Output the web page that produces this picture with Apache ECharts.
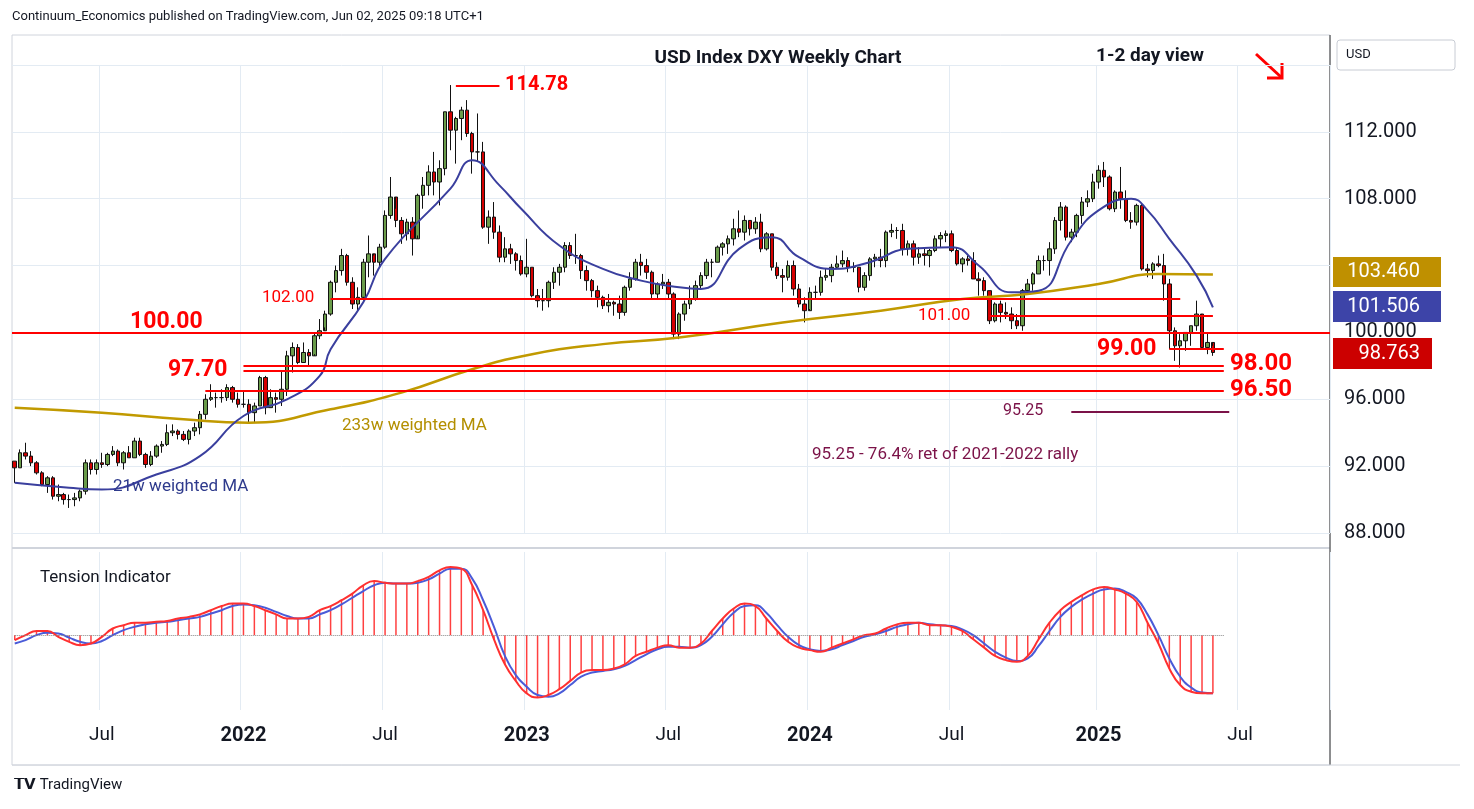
<!DOCTYPE html>
<html><head><meta charset="utf-8">
<script src="https://cdn.jsdelivr.net/npm/echarts@6/dist/echarts.min.js"></script>
<style>html,body{margin:0;padding:0;background:#fff}#c{width:1474px;height:809px}</style>
</head><body><div id="c"></div>
<script>
// weekly [close, high, low] from 2021-03-15
const close2021=[91.9,92.8,92.6,92.2,91.6,90.9,91.3,90.2,90.3,90.0,90.0,90.1,90.5,92.2,91.8,92.2,92.1,92.7,92.9,92.2,92.8,92.5,93.5,92.7,92.1,92.6,93.2,93.3,94.0,94.1,93.9,93.6,94.1,94.3,95.1,96.0,96.1,96.1,96.1,96.7,96.0,95.7];
const high2021=[92.3,93.0,93.4,92.9,92.3,91.7,91.4,91.4,90.9,90.4,90.3,90.4,90.6,92.4,92.4,92.4,92.8,92.8,93.2,93.0,92.9,93.2,93.7,93.7,92.8,92.9,93.3,93.5,94.5,94.5,94.2,94.1,94.2,94.6,95.3,96.3,96.9,96.4,96.6,96.9,96.8,96.4];
const low2021=[91.0,91.9,92.4,92.0,91.5,90.8,90.4,90.0,89.9,89.7,89.5,89.6,89.9,90.3,91.5,91.5,91.9,92.0,92.6,92.0,91.8,92.5,92.5,92.6,91.9,92.0,92.5,92.8,93.2,93.8,93.6,93.5,93.3,93.8,93.9,94.8,95.9,95.5,95.8,95.9,95.8,95.5];
const close2022=[95.7,95.2,95.6,97.3,95.5,96.1,96.0,96.6,98.6,99.1,98.2,98.8,98.6,99.8,100.1,101.1,103.0,103.7,104.6,103.0,101.7,102.1,104.2,104.7,104.2,105.1,107.0,108.1,106.7,105.9,106.6,105.6,108.2,108.8,109.6,109.0,109.8,113.2,112.1,112.8,113.3,111.9,110.8,110.8,106.3,106.9,106.0,104.5,105.0,104.7,104.3,103.5];
const high2022=[96.5,96.0,95.8,97.4,97.4,96.6,96.4,97.7,98.9,99.4,99.3,99.4,99.0,100.0,100.8,101.3,103.1,104.0,105.0,104.7,103.3,102.7,104.4,105.8,104.6,105.3,107.3,109.3,107.4,106.9,106.8,106.9,108.3,109.3,110.0,110.8,110.3,113.2,114.8,112.9,113.5,113.9,112.0,113.1,111.4,107.3,107.8,106.4,105.7,105.3,104.8,104.6];
const low2022=[95.5,94.6,94.6,95.6,95.1,95.5,95.2,95.6,96.2,97.6,98.1,98.2,98.0,98.7,99.6,100.3,101.0,102.4,103.4,102.8,101.4,101.3,101.9,103.3,103.4,103.9,105.0,106.8,106.3,105.3,105.5,104.6,105.8,107.4,108.2,108.2,107.6,109.4,110.9,110.1,111.5,111.7,109.5,110.2,106.2,105.3,105.6,104.2,104.2,104.1,103.7,103.4];
const close2023=[103.9,102.2,101.9,101.9,103.0,103.6,103.9,105.2,104.6,104.6,103.7,103.1,102.5,102.1,101.6,101.8,101.7,101.2,102.7,103.2,104.2,104.0,103.6,102.3,102.9,103.0,102.3,99.9,101.1,101.7,102.0,102.8,103.4,104.2,104.2,105.1,105.3,105.6,106.2,106.0,106.7,106.2,106.6,105.0,105.9,103.9,103.4,103.3,104.0,102.6,101.7,101.3];
const high2023=[105.6,103.9,102.6,102.6,103.1,103.9,104.1,105.4,105.4,105.9,104.7,104.0,103.2,102.8,102.2,102.3,101.9,102.2,102.8,103.6,104.4,104.7,104.4,103.7,103.0,103.5,103.2,102.4,101.2,101.9,102.8,103.1,103.6,104.4,104.4,105.2,105.4,105.8,106.8,107.3,107.0,106.7,106.9,107.1,106.0,105.9,104.2,103.8,104.3,104.3,102.9,102.1];
const low2023=[103.3,102.1,101.5,101.3,101.5,102.6,102.8,103.6,104.4,104.1,103.2,102.5,102.1,101.5,101.4,101.2,101.0,100.8,101.0,102.5,103.1,103.4,103.2,102.0,102.0,102.6,102.0,99.6,99.6,100.7,101.4,101.9,102.6,103.2,103.3,104.2,104.6,104.7,105.2,105.7,105.5,105.8,105.9,104.8,104.9,103.7,103.2,102.4,103.1,102.2,101.5,100.6];
const close2024=[102.4,102.4,103.3,103.4,103.9,104.1,104.3,103.9,103.9,102.7,103.4,104.4,104.5,104.3,106.0,106.1,106.1,105.0,105.3,104.5,104.7,104.6,104.9,105.6,105.8,105.9,104.9,104.1,104.4,104.3,103.2,103.1,102.5,100.7,101.7,101.2,101.1,100.7,100.4,102.5,102.9,103.5,104.3,104.3,105.0,106.7,107.5,105.7,106.0,107.0,107.8,108.0,109.0];
const high2024=[102.7,102.8,103.7,103.8,104.1,104.6,104.9,104.5,104.2,103.9,103.6,104.5,104.7,105.0,106.1,106.5,106.3,106.5,105.5,105.5,105.1,105.1,105.0,105.8,106.0,106.1,106.1,105.1,104.5,104.6,104.8,103.6,103.3,102.5,101.8,101.9,101.8,101.5,101.1,102.6,103.2,103.6,104.6,104.6,105.4,106.9,107.8,107.6,106.2,107.1,108.1,108.5,109.5];
const low2024=[101.4,102.0,102.2,103.1,103.0,103.8,103.9,103.6,103.6,102.4,102.5,103.1,103.9,103.9,103.9,105.7,105.6,104.6,104.6,104.0,104.1,104.0,103.9,104.8,105.1,105.4,104.8,104.0,103.6,104.0,103.2,102.2,102.2,100.5,100.6,100.6,100.8,100.2,100.2,100.1,102.3,102.5,103.5,103.7,103.4,104.7,106.1,105.5,105.4,105.7,106.5,107.5,107.8];
const close2025=[109.7,109.3,107.4,108.4,108.0,106.7,106.6,107.6,103.8,103.7,104.1,104.0,102.9,100.1,99.2,99.5,100.0,100.4,101.1,99.1,99.4,98.8];
const high2025=[110.0,110.2,109.4,108.5,109.9,108.5,107.2,107.7,107.7,104.1,104.2,104.6,104.7,103.2,100.3,99.9,100.0,100.4,101.9,101.0,100.0,99.2];
const low2025=[108.6,108.7,107.3,107.2,107.4,106.6,106.2,106.4,103.7,103.3,103.2,103.9,101.9,99.0,98.3,97.9,98.9,99.2,100.1,99.0,98.7,98.6];
const firstOpen=92.3;
// moving averages [weekIndex, value]
const wma21=[[0,91.0],[10,90.7],[16,90.6],[26,91.5],[34,92.6],[42,95.0],[50,96.0],[56,97.4],[58,99.0],[64,101.8],[68,104.4],[80,108.6],[84,110.3],[89,108.8],[93,107.4],[100,105.2],[108,103.8],[115,103.1],[122,102.7],[126,102.6],[133,105.0],[139,105.7],[144,104.5],[150,103.8],[157,104.2],[164,105.0],[172,105.1],[177,104.0],[183,102.4],[188,102.5],[194,105.5],[199,107.3],[205,108.0],[208,107.3],[212,105.6],[217,103.4],[220,101.5]];
const wma233=[[0,95.5],[16,95.2],[31,94.8],[43,94.6],[58,95.4],[71,96.4],[84,97.8],[95,98.7],[108,99.3],[122,99.7],[141,100.6],[159,101.3],[174,102.0],[186,102.3],[199,102.9],[210,103.5],[220,103.46]];
// tension indicator, every 2 weeks
const tensionRed=[-0.06,0.0,0.05,0.05,-0.02,-0.08,-0.12,-0.1,-0.02,0.08,0.12,0.15,0.15,0.16,0.17,0.2,0.22,0.25,0.3,0.35,0.38,
0.38,0.35,0.3,0.25,0.2,0.2,0.22,0.3,0.35,0.42,0.5,0.6,0.65,0.63,0.62,0.62,0.65,0.7,0.78,0.82,0.8,0.6,0.3,-0.05,-0.35,-0.55,
-0.7,-0.75,-0.72,-0.65,-0.55,-0.45,-0.42,-0.42,-0.4,-0.35,-0.25,-0.2,-0.15,-0.12,-0.15,-0.15,-0.1,0.05,0.2,0.32,0.38,0.35,0.2,0.05,-0.08,-0.15,
-0.18,-0.2,-0.15,-0.1,-0.05,0.0,0.02,0.08,0.13,0.15,0.15,0.12,0.12,0.1,0.05,-0.05,-0.15,-0.25,-0.3,-0.32,-0.25,-0.05,0.15,0.3,0.4,0.48,0.55,
0.58,0.55,0.5,0.4,0.15,-0.1,-0.4,-0.6,-0.68,-0.7,-0.7];
const tensionBlue=[-0.1,-0.06,0.0,0.03,0.02,-0.03,-0.08,-0.1,-0.07,0.0,0.06,0.1,0.13,0.15,0.16,0.18,0.2,0.22,0.26,0.3,0.35,
0.37,0.36,0.33,0.28,0.23,0.2,0.2,0.25,0.3,0.37,0.45,0.53,0.6,0.63,0.62,0.62,0.63,0.67,0.74,0.8,0.8,0.68,0.42,0.1,-0.25,-0.48,
-0.62,-0.72,-0.74,-0.7,-0.6,-0.5,-0.45,-0.43,-0.41,-0.37,-0.3,-0.23,-0.17,-0.14,-0.14,-0.15,-0.12,-0.02,0.13,0.27,0.35,0.36,0.27,0.12,-0.02,-0.12,
-0.17,-0.19,-0.17,-0.12,-0.07,-0.02,0.01,0.05,0.1,0.13,0.15,0.13,0.12,0.11,0.07,0.0,-0.1,-0.2,-0.27,-0.31,-0.28,-0.13,0.05,0.22,0.34,0.43,0.5,
0.55,0.56,0.52,0.44,0.25,0.0,-0.28,-0.5,-0.63,-0.69,-0.7];

const closes=[].concat(close2021,close2022,close2023,close2024,close2025);
const highs=[].concat(high2021,high2022,high2023,high2024,high2025);
const lows=[].concat(low2021,low2022,low2023,low2024,low2025);
const N=242;
const cats=[];const start=Date.UTC(2021,2,15);
for(let i=0;i<N;i++){cats.push(new Date(start+i*7*86400000).toISOString().slice(0,10));}
const candles=closes.map((c,i)=>[i===0?firstOpen:closes[i-1],c,lows[i],highs[i]]);
const red=tensionRed.map((v,k)=>[2*k,v]);
const blue=tensionBlue.map((v,k)=>[2*k,v]);
function isMark(idx){const d=new Date(start+idx*7*86400000);return d.getUTCDate()<=7&&(d.getUTCMonth()===0||d.getUTCMonth()===6);}
const RED='#ff0000';
function hl(v,a,b,color,w){return [{coord:[a,v],lineStyle:{color:color||RED,width:w||2,type:'solid'}},{coord:[b,v]}];}

const chart=echarts.init(document.getElementById('c'));
const gridLine={show:true,interval:(i)=>isMark(i),lineStyle:{color:'#e3ebf3'}};
const T=(x,y,text,font,fill,align)=>({type:'text',x:x,y:y,z:100,style:{text:text,font:font,fill:fill,textAlign:align||'left',textVerticalAlign:'middle'}});
chart.setOption({
 animation:false,
 grid:[{left:12,width:1318,top:65,height:468},{left:12,width:1318,top:552,height:158}],
 xAxis:[
  {type:'category',data:cats,gridIndex:0,axisLine:{show:false},axisTick:{show:false},axisLabel:{show:false},splitLine:gridLine},
  {type:'category',data:cats,gridIndex:1,axisLine:{show:false},axisTick:{show:false},splitLine:gridLine,
   axisLabel:{interval:(i)=>isMark(i),margin:16,fontFamily:'Roboto',formatter:(v)=>{const d=new Date(v);return d.getUTCMonth()===0?'{y|'+d.getUTCFullYear()+'}':'{m|Jul}';},
    rich:{y:{fontSize:20,fontWeight:'bold',color:'#131722',fontFamily:'Roboto'},m:{fontSize:19,color:'#131722',fontFamily:'Roboto'}}}}
 ],
 yAxis:[
  {type:'value',gridIndex:0,position:'right',min:88,max:116,interval:4,axisLine:{show:false},axisTick:{show:false},
   splitLine:{lineStyle:{color:'#e3ebf3'}},axisLabel:{margin:14,fontSize:20,color:'#131722',fontFamily:'Roboto',formatter:(v)=>(v===116||v===104)?'':v.toFixed(3)}},
  {type:'value',gridIndex:1,min:-0.9,max:1.0,show:false}
 ],
 series:[
  {type:'candlestick',data:candles,xAxisIndex:0,yAxisIndex:0,barWidth:4,
   itemStyle:{color:'#6a9c4a',color0:'#d40000',borderColor:'#111',borderColor0:'#111',borderWidth:1},
   markLine:{symbol:'none',silent:true,label:{show:false},data:[
    {yAxis:100,lineStyle:{color:RED,width:2,type:'solid'}},
    hl(102,58,214),hl(101,179,220),hl(99,212,222),hl(98,42,222),hl(97.7,42,222),hl(96.5,35,222),
    hl(95.25,194,223,'#7b1248',2),hl(114.78,81,89)
   ]}},
  {type:'line',data:wma233,xAxisIndex:0,yAxisIndex:0,smooth:true,showSymbol:false,lineStyle:{color:'#c19a00',width:2.5}},
  {type:'line',data:wma21,xAxisIndex:0,yAxisIndex:0,smooth:true,showSymbol:false,lineStyle:{color:'#3a3f9e',width:2}},
  {type:'bar',data:red,xAxisIndex:1,yAxisIndex:1,barWidth:1.5,itemStyle:{color:'#ff4040'},
   markLine:{symbol:'none',silent:true,label:{show:false},data:[[{coord:[0,0],lineStyle:{color:'#888',type:'dotted',width:1}},{coord:[222,0]}]]}},
  {type:'line',data:blue,xAxisIndex:1,yAxisIndex:1,smooth:true,showSymbol:false,lineStyle:{color:'#4a5bd8',width:2}},
  {type:'line',data:red,xAxisIndex:1,yAxisIndex:1,smooth:true,showSymbol:false,lineStyle:{color:'#ff3030',width:2}}
 ],
 graphic:[
  {type:'rect',shape:{x:12,y:35,width:1318,height:730},style:{fill:'none',stroke:'#d0d4dc',lineWidth:1},silent:true},
  {type:'line',shape:{x1:12,y1:548,x2:1330,y2:548},style:{stroke:'#d0d4dc',lineWidth:2}},
  {type:'line',shape:{x1:1330,y1:35,x2:1330,y2:765},style:{stroke:'#333',lineWidth:1}},
  {type:'line',shape:{x1:12,y1:765,x2:1460,y2:765},style:{stroke:'#d0d4dc',lineWidth:1}},
  {type:'text',left:12,top:10,style:{text:'Continuum_Economics published on TradingView.com, Jun 02, 2025 09:18 UTC+1',font:'13px Roboto',fill:'#131722'}},
  {type:'text',left:14,top:778,style:{text:'𝗧𝗩 TradingView',font:'15px Roboto',fill:'#131722'}},
  {type:'rect',shape:{x:1337,y:40,width:118,height:30,r:3},style:{fill:'#fff',stroke:'#c8ccd4'}},
  {type:'text',left:1346,top:48,style:{text:'USD',font:'13px Roboto',fill:'#131722'}},
  T(778,58,'USD Index DXY Weekly Chart','bold 19px Roboto','#131722','center'),
  T(1096,56,'1-2 day view','bold 19px Roboto','#131722'),
  {type:'line',shape:{x1:1256,y1:54,x2:1281,y2:77},style:{stroke:RED,lineWidth:3}},
  {type:'polyline',shape:{points:[[1267,78],[1282,78],[1282,63]]},style:{stroke:RED,lineWidth:3,fill:'none'}},
  T(505,85,'114.78','bold 20px Roboto',RED),
  T(262,298,'102.00','17px Roboto',RED),
  T(130,322,'100.00','bold 23px Roboto',RED),
  T(168,370,'97.70','bold 23px Roboto',RED),
  T(918,316,'101.00','17px Roboto',RED),
  T(1097,349,'99.00','bold 23px Roboto',RED),
  T(1230,364,'98.00','bold 24px Roboto',RED),
  T(1230,390,'96.50','bold 24px Roboto',RED),
  T(1003,411,'95.25','16px Roboto','#7b1248'),
  T(342,426,'233w weighted MA','17px Roboto','#b38f00'),
  T(113,487,'21w weighted MA','17px Roboto','#2e3a8c'),
  T(812,455,'95.25 - 76.4% ret of 2021-2022 rally','17px Roboto','#7b1248'),
  T(40,578,'Tension Indicator','17px Roboto','#131722'),
  {type:'rect',z:99,shape:{x:1333,y:257,width:108,height:30},style:{fill:'#bf9000'}},
  T(1420,272,'103.460','20px Roboto','#fff','right'),
  {type:'rect',z:99,shape:{x:1333,y:291,width:108,height:31},style:{fill:'#3d44a8'}},
  T(1420,307,'101.506','20px Roboto','#fff','right'),
  {type:'rect',z:99,shape:{x:1333,y:338,width:99,height:31},style:{fill:'#cc0000'}},
  T(1420,354,'98.763','20px Roboto','#fff','right')
 ]
});
</script></body></html>
